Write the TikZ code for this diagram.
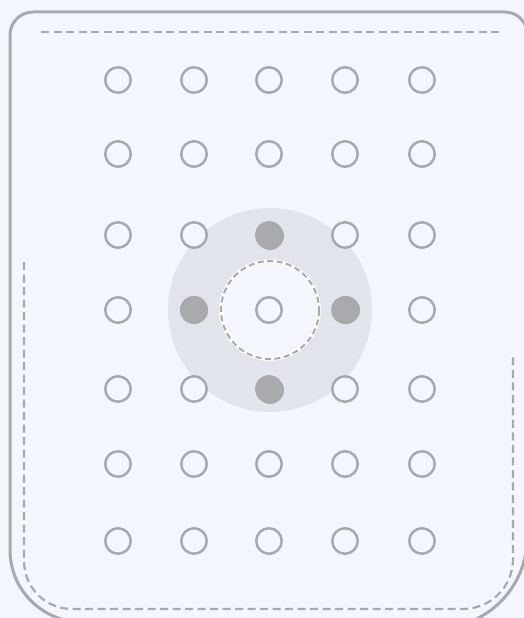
\documentclass[tikz,border=0pt]{standalone}
\usetikzlibrary{calc}
\definecolor{bgc}{HTML}{F3F7FD}
\definecolor{strk}{HTML}{A8A9AD}
\definecolor{discc}{HTML}{E1E4EA}
\definecolor{dotc}{HTML}{A9AAAD}
\begin{document}
\begin{tikzpicture}[x=1pt,y=-1pt,
  opendot/.style={circle,draw=strk,line width=2.5pt,fill=bgc,minimum size=25.5pt,inner sep=0pt},
  filldot/.style={circle,fill=dotc,minimum size=28pt,inner sep=0pt},
  dashline/.style={draw=strk,line width=2.2pt,dash pattern=on 8pt off 4.5pt},
  border/.style={draw=strk,line width=3pt}]
\fill[bgc] (0,0) rectangle (524,618);
\useasboundingbox (0,0) rectangle (524,618);
% outer pocket
\begin{scope}
\clip (0,0) rectangle (524,618);
\draw[border] (10,35) arc[start angle=180,end angle=270,radius=23] -- (505,12)
  arc[start angle=270,end angle=360,radius=22] -- (527,538)
  arc[start angle=0,end angle=90,radius=90] -- (82,622)
  arc[start angle=90,end angle=180,radius=72] -- cycle;
\end{scope}
% dashed stitching
\coordinate (t1) at (41,32); \coordinate (t2) at (501,32);
\draw[dashline] (t1) -- (t2);
\coordinate (l1) at (24,262); \coordinate (r1) at (513,354);
\draw[dashline] (l1) -- (24,561) arc[start angle=180,end angle=90,radius=48] -- (463,609)
  arc[start angle=90,end angle=0,radius=50] -- (r1);
% central disc
\fill[discc] (270,310) circle[radius=102];
\node[circle,fill=bgc,draw=white,line width=3.5pt,minimum size=98pt,inner sep=0pt] (ring) at (270,310) {};
\draw[strk,line width=2pt,dash pattern=on 6pt off 3.5pt] (ring.center) circle[radius=49];
% grid
\foreach \r/\y in {1/80,2/154,3/235,4/310,5/389,6/464,7/541}{
  \foreach \c/\x in {1/118,2/194,3/269,4/345,5/422}{
    \node[opendot] (c-\r-\c) at (\x,\y) {};
  }
}
\node[filldot] (f-n) at (270,236) {};
\node[filldot] (f-w) at (194,310) {};
\node[filldot] (f-e) at (346,310) {};
\node[filldot] (f-s) at (270,390) {};
\end{tikzpicture}
\end{document}
